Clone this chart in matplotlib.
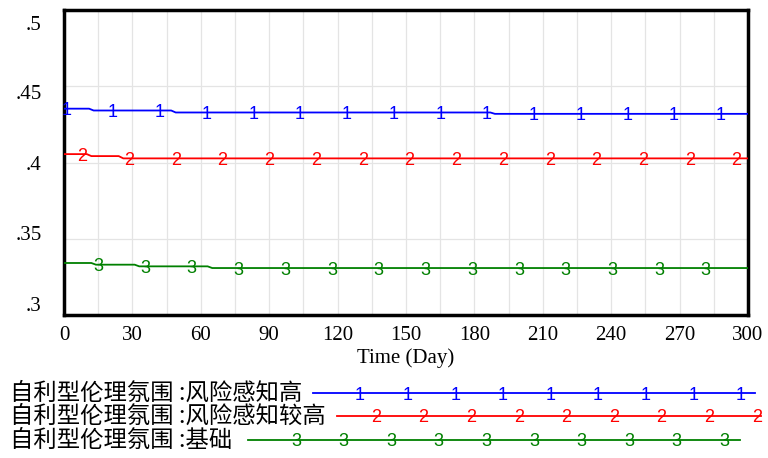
import matplotlib
matplotlib.use("Agg")
from matplotlib import pyplot as plt
from matplotlib.lines import Line2D
from matplotlib import transforms
import numpy as np

# time (Day) / value pairs
blue_t = [0, 11, 13, 47, 49, 187, 189, 300]
blue_v = [0.4353, 0.4353, 0.4341, 0.4341, 0.4328, 0.4328, 0.4319, 0.4319]

red_t = [0, 10, 12, 24, 26, 300]
red_v = [0.4055, 0.4055, 0.4042, 0.4042, 0.4027, 0.4027]

green_t = [0, 12, 14, 31, 33, 63, 65, 300]
green_v = [0.3341, 0.3341, 0.3330, 0.3330, 0.3319, 0.3319, 0.3308, 0.3308]

labels = ['自利型伦理氛围 :风险感知高',
          '自利型伦理氛围 :风险感知较高',
          '自利型伦理氛围 :基础']
colors = ['#0000ff', '#ff0000', '#008000']
digits = ['1', '2', '3']

xticks = [0, 30, 60, 90, 120, 150, 180, 210, 240, 270, 300]
yticks = [0.3, 0.35, 0.4, 0.45, 0.5]
ytick_labels = ['.3', '.35', '.4', '.45', '.5']

W, H = 768, 458
fig = plt.figure(figsize=(W / 100, H / 100), dpi=100)
ax = fig.add_axes([64 / W, 1 - 315 / H, (748 - 64) / W, (315 - 10) / H])

series = [(blue_t, blue_v), (red_t, red_v), (green_t, green_v)]
mark_start = [1, 8, 15]
down = transforms.ScaledTranslation(0, -2 / 100, fig.dpi_scale_trans)

for (t, v), c, d, m0 in zip(series, colors, digits, mark_start):
    ax.plot(t, v, color=c, lw=1.3, zorder=3)
    for day in np.arange(m0, 296, 20.5):
        ax.text(day, np.interp(day, t, v), d, color=c, fontsize=13,
                family='Liberation Sans', ha='center', va='center',
                transform=ax.transData + down, zorder=4)

ax.set_xlim(0, 300)
ax.set_ylim(0.3, 0.5)
ax.set_xticks(xticks)
ax.set_xticks(np.arange(0, 301, 15), minor=True)
ax.set_yticks(yticks)
ax.set_yticklabels(ytick_labels)
ax.grid(True, which='both', axis='x', color='#e4e4e4', lw=0.9)
ax.grid(True, which='major', axis='y', color='#e4e4e4', lw=0.9)
ax.set_axisbelow(True)
ax.tick_params(which='both', length=0)
ax.tick_params(axis='x', pad=8)
ax.tick_params(axis='y', pad=16)
for lab in ax.get_xticklabels() + ax.get_yticklabels():
    lab.set_family('Liberation Serif')
    lab.set_fontsize(15)
for sp in ax.spines.values():
    sp.set_linewidth(2.5)
    sp.set_color('black')

# Vensim spreads the y labels a bit inside the axis range
shifts = [11, 6, 0, -6, -13]
for lab, s in zip(ax.get_yticklabels(), shifts):
    lab.set_transform(lab.get_transform() +
                      transforms.ScaledTranslation(0, s / 100, fig.dpi_scale_trans))

ax.set_xlabel('Time (Day)', family='Liberation Serif', fontsize=15, labelpad=2)

# legend below the plot
rows_y = [393, 416, 440]
line_x = [(313, 755), (337, 761), (248, 740)]
mark_x = [(360, 9), (376, 9), (296, 10)]
for lab, c, d, y, (x0, x1), (mx, n) in zip(labels, colors, digits, rows_y, line_x, mark_x):
    fig.text(10 / W, 1 - y / H, lab, family=['Noto Sans CJK SC', 'DejaVu Sans'],
             fontsize=16.8, ha='left', va='center')
    fig.add_artist(Line2D([x0 / W, x1 / W], [1 - y / H, 1 - y / H],
                          transform=fig.transFigure, color=c, lw=1.3))
    for k in range(n):
        fig.text((mx + 47.6 * k) / W, 1 - (y + 2) / H, d, color=c, fontsize=13,
                 family='Liberation Sans', ha='center', va='center')

fig.savefig('out.png', dpi=100)
